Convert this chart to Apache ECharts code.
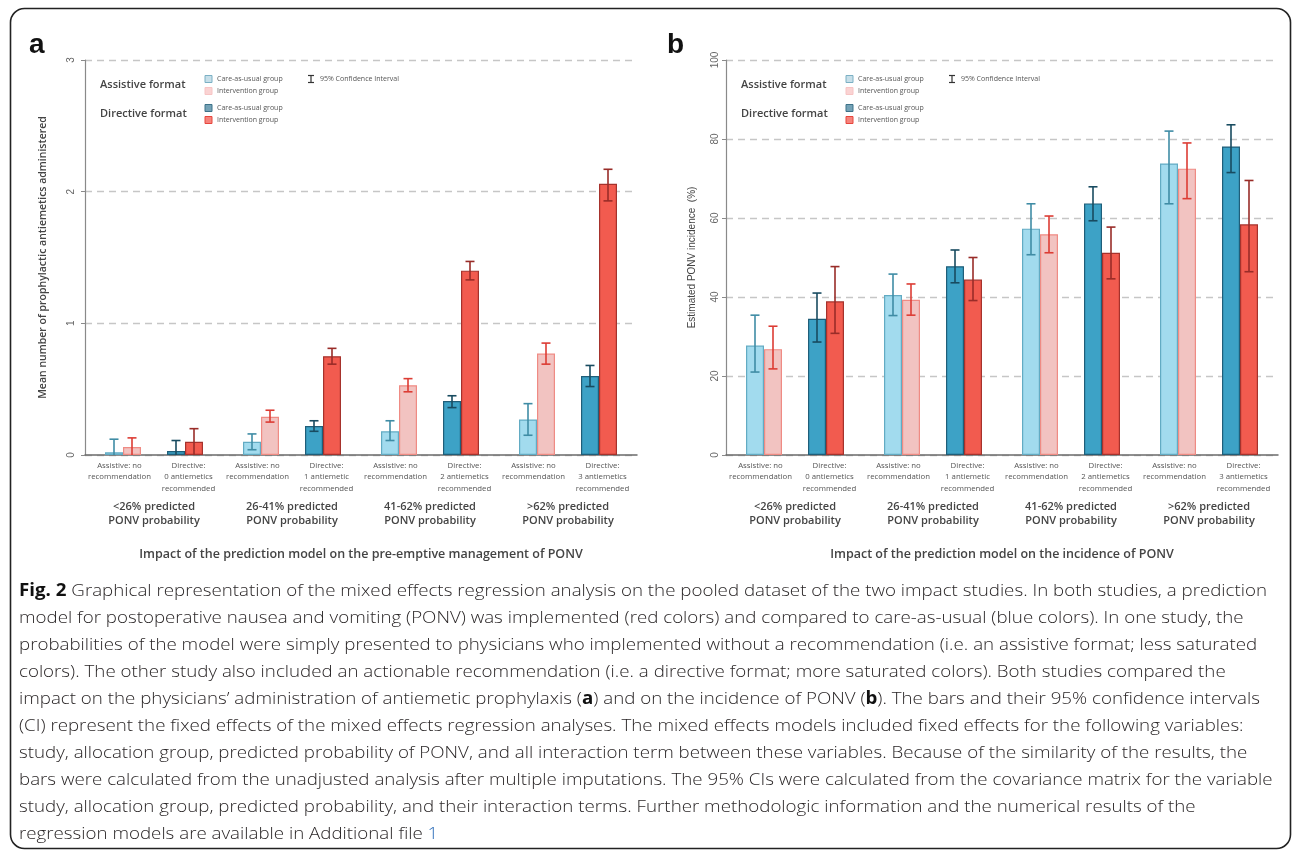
<!DOCTYPE html>
<html>
<head>
<meta charset="utf-8">
<script src="https://cdn.jsdelivr.net/npm/echarts/dist/echarts.min.js"></script>
<style>
  html, body { margin: 0; padding: 0; background: #fff; }
  #fig { width: 1292px; height: 850px; }
</style>
</head>
<body>
<div id="fig"></div>
<script>
// categories
var groupLabels = ['<26% predicted\nPONV probability', '26-41% predicted\nPONV probability',
                   '41-62% predicted\nPONV probability', '>62% predicted\nPONV probability'];
var subLabels = ['Assistive: no\nrecommendation', 'Directive:\n0 antiemetics\nrecommended',
                 'Assistive: no\nrecommendation', 'Directive:\n1 antiemetic\nrecommended',
                 'Assistive: no\nrecommendation', 'Directive:\n2 antiemetics\nrecommended',
                 'Assistive: no\nrecommendation', 'Directive:\n3 antiemetics\nrecommended'];
var ticksA = [0, 1, 2, 3];
var ticksB = [0, 20, 40, 60, 80, 100];

// panel a: mean number of prophylactic antiemetics
var aAssistCare = [0.02, 0.10, 0.18, 0.27];
var aAssistCareLo = [0, 0.04, 0.11, 0.15];
var aAssistCareHi = [0.12, 0.16, 0.26, 0.39];
var aAssistInt = [0.06, 0.29, 0.53, 0.77];
var aAssistIntLo = [0, 0.25, 0.48, 0.69];
var aAssistIntHi = [0.13, 0.34, 0.58, 0.85];
var aDirectCare = [0.03, 0.22, 0.41, 0.60];
var aDirectCareLo = [0, 0.18, 0.36, 0.52];
var aDirectCareHi = [0.11, 0.26, 0.45, 0.68];
var aDirectInt = [0.10, 0.75, 1.40, 2.06];
var aDirectIntLo = [0, 0.69, 1.33, 1.93];
var aDirectIntHi = [0.20, 0.81, 1.47, 2.17];

// panel b: estimated PONV incidence (%)
var bAssistCare = [27.7, 40.5, 57.3, 73.8];
var bAssistCareLo = [21.0, 35.3, 50.7, 63.6];
var bAssistCareHi = [35.4, 45.8, 63.6, 82.0];
var bAssistInt = [26.8, 39.3, 55.9, 72.5];
var bAssistIntLo = [21.8, 35.4, 51.2, 64.9];
var bAssistIntHi = [32.6, 43.3, 60.5, 79.0];
var bDirectCare = [34.5, 47.8, 63.7, 78.1];
var bDirectCareLo = [28.6, 43.6, 59.3, 71.5];
var bDirectCareHi = [41.0, 51.9, 67.9, 83.6];
var bDirectInt = [38.9, 44.4, 51.2, 58.4];
var bDirectIntLo = [30.8, 39.1, 44.6, 46.4];
var bDirectIntHi = [47.7, 50.0, 57.7, 69.5];

var FONT = '"Open Sans", sans-serif';
var fills = ['#a2dbee', '#f2c3c1', '#3da2c6', '#f25b4f'];
var borders = ['#62abc3', '#ef8b84', '#1f5e79', '#a6322c'];
var whisk = ['#3f8ca5', '#dc3c34', '#184b60', '#992c28'];
var slotOffset = [-40, -22, 22, 40]; // centre of each bar inside its group (px)
var slotNames = ['Assistive care-as-usual', 'Assistive intervention', 'Directive care-as-usual', 'Directive intervention'];

function errRender(params, api) {
  var cat = api.value(0), lo = api.value(1), hi = api.value(2), slot = api.value(3);
  var pHi = api.coord([cat, hi]);
  var pLo = api.coord([cat, lo]);
  var x = pHi[0] + slotOffset[slot];
  var st = { stroke: whisk[slot], lineWidth: 1.6 };
  var kids = [
    { type: 'line', shape: { x1: x, y1: pHi[1], x2: x, y2: pLo[1] }, style: st },
    { type: 'line', shape: { x1: x - 4.5, y1: pHi[1], x2: x + 4.5, y2: pHi[1] }, style: st }
  ];
  if (lo > 0) kids.push({ type: 'line', shape: { x1: x - 4.5, y1: pLo[1], x2: x + 4.5, y2: pLo[1] }, style: st });
  return { type: 'group', children: kids };
}

function panelSeries(gi, vals, los, his) {
  var out = [];
  for (var s = 0; s < 4; s++) {
    if (s === 2) {
      out.push({ type: 'bar', xAxisIndex: gi * 2, yAxisIndex: gi, barWidth: 26, barGap: '0%',
                 silent: true, data: groupLabels.map(function () { return '-'; }) });
    }
    out.push({ type: 'bar', name: slotNames[s], xAxisIndex: gi * 2, yAxisIndex: gi,
               barWidth: 18, barGap: '0%', data: vals[s],
               itemStyle: { color: fills[s], borderColor: borders[s], borderWidth: 1.2 } });
  }
  var eb = [];
  for (s = 0; s < 4; s++) for (var i = 0; i < groupLabels.length; i++) eb.push([i, los[s][i], his[s][i], s]);
  out.push({ type: 'custom', xAxisIndex: gi * 2, yAxisIndex: gi, data: eb, z: 5,
             encode: { x: 0, y: [1, 2] }, renderItem: errRender });
  return out;
}

function xAxes(gi, title) {
  return [
    { gridIndex: gi, type: 'category', data: groupLabels,
      axisLine: { lineStyle: { color: '#6b6b6b', width: 1.5 } }, axisTick: { show: false },
      axisLabel: { margin: 45, fontSize: 11, fontWeight: 600, color: '#444', lineHeight: 14, fontFamily: FONT },
      name: title, nameLocation: 'middle', nameGap: 93,
      nameTextStyle: { fontSize: 12.5, fontWeight: 600, color: '#444', fontFamily: FONT } },
    { gridIndex: gi, type: 'category', data: subLabels, position: 'bottom',
      axisLine: { show: false }, axisTick: { show: false },
      axisLabel: { interval: 0, margin: 5, fontSize: 7.8, color: '#555', lineHeight: 11.5, fontFamily: FONT } }
  ];
}

function yAxis(gi, ticks, name, nameGap, nameStyle, margin) {
  return { gridIndex: gi, type: 'value', min: ticks[0], max: ticks[ticks.length - 1],
    interval: ticks[1] - ticks[0],
    axisLine: { show: true, lineStyle: { color: '#8a8a8a', width: 1.2 } },
    axisTick: { show: true, length: 4, lineStyle: { color: '#8a8a8a' } },
    axisLabel: { rotate: 90, margin: margin, fontSize: 10, color: '#666', fontFamily: '"Liberation Sans", sans-serif' },
    splitLine: { lineStyle: { type: [7, 5], color: '#c6c6c6', width: 1.3 } },
    name: name, nameLocation: 'middle', nameGap: nameGap, nameTextStyle: nameStyle };
}

function legend(x0) {
  var els = [];
  els.push({ type: 'text', x: x0 + 15, y: 85, style: { text: 'Assistive format', font: '600 11px ' + FONT, fill: '#444', verticalAlign: 'middle' } });
  els.push({ type: 'text', x: x0 + 15, y: 114, style: { text: 'Directive format', font: '600 11px ' + FONT, fill: '#444', verticalAlign: 'middle' } });
  var sq = [['#c7dfe9', '#7bb0c4', 79, 'Care-as-usual group'], ['#fad3d3', '#f7c4c4', 91, 'Intervention group'],
            ['#74a2b6', '#3d7289', 108, 'Care-as-usual group'], ['#f6837c', '#e6463d', 120, 'Intervention group']];
  sq.forEach(function (q) {
    els.push({ type: 'rect', shape: { x: x0 + 120, y: q[2] - 3.5, width: 7, height: 7 }, style: { fill: q[0], stroke: q[1], lineWidth: 1 } });
    els.push({ type: 'text', x: x0 + 132, y: q[2], style: { text: q[3], font: '7px ' + FONT, fill: '#555', verticalAlign: 'middle' } });
  });
  var cx = x0 + 226;
  var ist = { stroke: '#333', lineWidth: 1.2 };
  els.push({ type: 'line', shape: { x1: cx, y1: 75.5, x2: cx, y2: 82.5 }, style: ist });
  els.push({ type: 'line', shape: { x1: cx - 3, y1: 75.5, x2: cx + 3, y2: 75.5 }, style: ist });
  els.push({ type: 'line', shape: { x1: cx - 3, y1: 82.5, x2: cx + 3, y2: 82.5 }, style: ist });
  els.push({ type: 'text', x: cx + 9, y: 79, style: { text: '95% Confidence Interval', font: '7px ' + FONT, fill: '#555', verticalAlign: 'middle' } });
  return els;
}

// caption
var captionLines = [
  '{b|Fig. 2} Graphical representation of the mixed effects regression analysis on the pooled dataset of the two impact studies. In both studies, a prediction',
  'model for postoperative nausea and vomiting (PONV) was implemented (red colors) and compared to care-as-usual (blue colors). In one study, the',
  'probabilities of the model were simply presented to physicians who implemented without a recommendation (i.e. an assistive format; less saturated',
  'colors). The other study also included an actionable recommendation (i.e. a directive format; more saturated colors). Both studies compared the',
  'impact on the physicians\u2019 administration of antiemetic prophylaxis ({b|a}) and on the incidence of PONV ({b|b}). The bars and their 95% confidence intervals',
  '(CI) represent the fixed effects of the mixed effects regression analyses. The mixed effects models included fixed effects for the following variables:',
  'study, allocation group, predicted probability of PONV, and all interaction term between these variables. Because of the similarity of the results, the',
  'bars were calculated from the unadjusted analysis after multiple imputations. The 95% CIs were calculated from the covariance matrix for the variable',
  'study, allocation group, predicted probability, and their interaction terms. Further methodologic information and the numerical results of the',
  'regression models are available in Additional file {l|1}'
];

var ctx = document.createElement('canvas').getContext('2d');
ctx.font = 'bold 17px ' + FONT;
var w1 = ctx.measureText('Fig. 2').width;
ctx.font = '300 17px ' + FONT;
w1 += ctx.measureText(' Graphical representation of the mixed effects regression analysis on the pooled dataset of the two impact studies. In both studies, a prediction').width;
var capScale = 1248 / w1;

var graphics = [
  { type: 'rect', shape: { x: 10.5, y: 8.5, width: 1280, height: 840, r: 14 }, style: { fill: 'none', stroke: '#222', lineWidth: 1.6 } },
  { type: 'text', x: 29, y: 45, style: { text: 'a', font: 'bold 28px "Liberation Sans", sans-serif', fill: '#111', verticalAlign: 'middle' } },
  { type: 'text', x: 667, y: 45, style: { text: 'b', font: 'bold 28px "Liberation Sans", sans-serif', fill: '#111', verticalAlign: 'middle' } }
].concat(legend(85), legend(726));

captionLines.forEach(function (t, k) {
  graphics.push({ type: 'text', x: 19, y: 591 + k * 27, scaleX: capScale,
    style: { text: t, font: '300 17px ' + FONT, fill: '#2a2627', verticalAlign: 'middle',
             rich: { b: { fontWeight: 'bold', fontSize: 17, fontFamily: FONT, fill: '#111' },
                     l: { fontSize: 17, fontWeight: 300, fontFamily: FONT, fill: '#2b6cb8' } } } });
});

var chart = echarts.init(document.getElementById('fig'), null, { renderer: 'canvas' });
chart.setOption({
  animation: false,
  backgroundColor: '#fff',
  grid: [
    { left: 85, top: 60, width: 552, height: 395 },
    { left: 726, top: 60, width: 552, height: 395 }
  ],
  xAxis: xAxes(0, 'Impact of the prediction model on the pre-emptive management of PONV')
    .concat(xAxes(1, 'Impact of the prediction model on the incidence of PONV')),
  yAxis: [
    yAxis(0, ticksA, 'Mean number of prophylactic antiemetics administered', 36,
          { fontSize: 10.5, fontWeight: 600, color: '#444', fontFamily: FONT }, 9),
    yAxis(1, ticksB, 'Estimated PONV incidence  (%)', 29,
          { fontSize: 10, color: '#444', fontFamily: '"Liberation Sans", sans-serif' }, 6)
  ],
  series: panelSeries(0,
      [aAssistCare, aAssistInt, aDirectCare, aDirectInt],
      [aAssistCareLo, aAssistIntLo, aDirectCareLo, aDirectIntLo],
      [aAssistCareHi, aAssistIntHi, aDirectCareHi, aDirectIntHi])
    .concat(panelSeries(1,
      [bAssistCare, bAssistInt, bDirectCare, bDirectInt],
      [bAssistCareLo, bAssistIntLo, bDirectCareLo, bDirectIntLo],
      [bAssistCareHi, bAssistIntHi, bDirectCareHi, bDirectIntHi])),
  graphic: graphics
});
</script>
</body>
</html>
